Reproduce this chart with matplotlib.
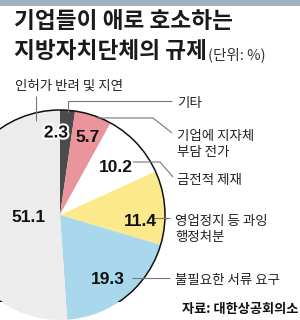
import matplotlib
matplotlib.use("Agg")
import matplotlib.pyplot as plt
from matplotlib.patches import Rectangle, Circle
import matplotlib.patheffects as pe

# ---- data ----
categories = ["기타", "기업에 지자체\n부담 전가", "금전적 제재", "영업정지 등 과잉\n행정처분",
              "불필요한 서류 요구", "인허가 반려 및 지연"]
values = [2.3, 5.7, 10.2, 11.4, 19.3, 51.1]
value_labels = ["2.3", "5.7", "10.2", "11.4", "19.3", "51.1"]
title_lines = ["기업들이 애로 호소하는", "지방자치단체의 규제"]
unit_text = "(단위: %)"
source_text = "자료: 대한상공회의소"

# ---- style / layout ----
colors = ["#4b4b4b", "#e9959b", "#ffffff", "#fbe98c", "#a9d7eb", "#ececec"]
W, H = 300, 320
KR = ["Noto Sans CJK KR", "DejaVu Sans"]

fig = plt.figure(figsize=(W / 100, H / 100), dpi=100)
ax = fig.add_axes([0, 0, 1, 1])

def Y(y):
    return H - y

# pie
cx, cy, r = 60, Y(215), 105
clip = Rectangle((0, Y(302)), W, 302 - 60, transform=ax.transData)
wedges, _ = ax.pie(values, colors=colors, startangle=90, counterclock=False,
                   center=(cx, cy), radius=r, frame=True,
                   wedgeprops=dict(linewidth=0))
for w in wedges:
    w.set_clip_path(clip)
outline = Circle((cx, cy), r, fill=False, edgecolor="#111111", lw=1.1)
ax.add_patch(outline)
outline.set_clip_path(clip)
ax.set_xlim(0, W)
ax.set_ylim(0, H)
ax.set_aspect("auto")
ax.axis("off")

# top banner
ax.add_patch(Rectangle((0, Y(6)), W, 6, color="#9fb2c2", lw=0))

# title
ax.text(14, Y(22), title_lines[0], fontsize=16.3, fontweight="bold", family=KR,
        va="center", ha="left", color="#1a1a1a")
ax.text(14, Y(52), title_lines[1], fontsize=16.3, fontweight="bold", family=KR,
        va="center", ha="left", color="#1a1a1a")
ax.text(208, Y(55), unit_text, fontsize=10.5, family=KR, va="center", ha="left",
        color="#333333")

# value labels
num_pos = [(56, 133), (88, 138), (116, 167), (140, 222), (108, 280), (28, 217)]
for (x, y), lab in zip(num_pos, value_labels):
    t = ax.text(x, Y(y), lab, fontsize=12.5, fontweight="bold", family="Liberation Sans",
                ha="center", va="center", color="#111111")
    if lab == "2.3":
        t.set_path_effects([pe.withStroke(linewidth=3, foreground="white")])

# category labels and leader lines
lc = "#777777"
lw = 0.8
cat_pos = [(177, 103), (177, 144), (177, 180), (175, 229), (175, 280), (15, 86)]
for (x, y), lab in zip(cat_pos, categories):
    ax.text(x, Y(y), lab, fontsize=9.7, family=KR, ha="left", va="center",
            color="#222222", linespacing=1.25)

leaders = [
    [(68, 113), (68, 101), (172, 101)],
    [(97, 118), (153, 118), (172, 133)],
    [(133, 162), (160, 162), (173, 177)],
    [(152, 218), (170, 218)],
    [(132, 278), (170, 278)],
    [(36, 96), (36, 121)],
]
for pts in leaders:
    ax.plot([p[0] for p in pts], [Y(p[1]) for p in pts], color=lc, lw=lw,
            solid_capstyle="butt")

# source
ax.text(298, Y(309), source_text, fontsize=9.5, fontweight="bold", family=KR,
        ha="right", va="center", color="#111111")

fig.savefig("out.png", dpi=100)
